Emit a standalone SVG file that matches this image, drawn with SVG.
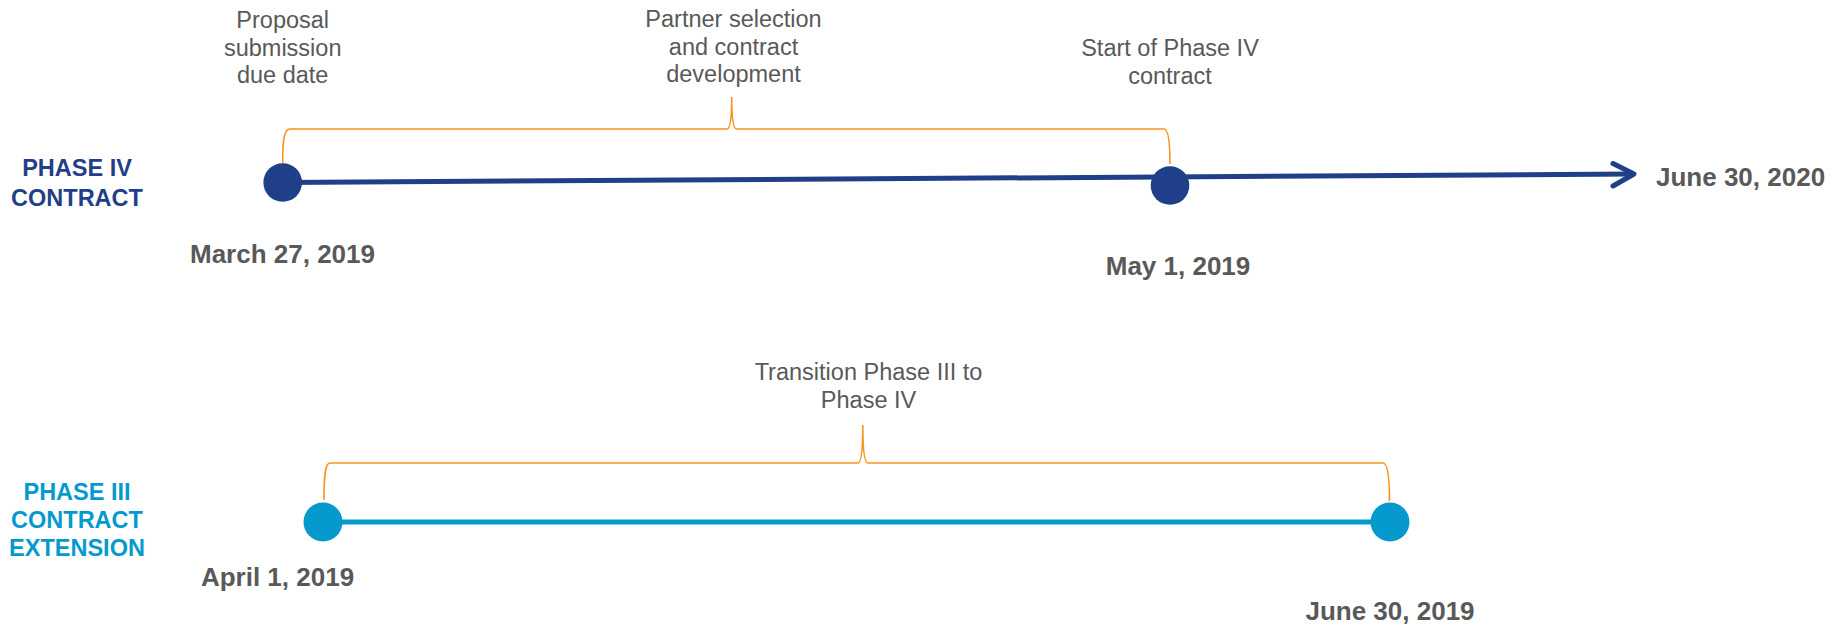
<svg xmlns="http://www.w3.org/2000/svg" width="1839" height="628" viewBox="0 0 1839 628">
<style>
  .note{font-family:"Liberation Sans",Arial,sans-serif;font-size:23.5px;fill:#595959;text-anchor:middle}
  .date{font-family:"Liberation Sans",Arial,sans-serif;font-size:26px;font-weight:bold;fill:#595959;text-anchor:middle}
  .lbl{font-family:"Liberation Sans",Arial,sans-serif;font-size:23.5px;font-weight:bold;text-anchor:middle}
  .dk{fill:#1F3F88}
  .lt{fill:#0599CE}
  .brace{fill:none;stroke:#F7941D;stroke-width:1.6}
</style>
<rect width="1839" height="628" fill="#ffffff"/>
<g id="connectors">
  <path d="M283 182.5 L1633 174" stroke="#1F3F88" stroke-width="5" fill="none"/>
  <path d="M1613 163.5 L1634 174 L1613 186" stroke="#1F3F88" stroke-width="5" fill="none" stroke-linecap="round" stroke-linejoin="round"/>
  <path d="M323 522 L1390 522" stroke="#0599CE" stroke-width="5" fill="none"/>
  <path class="brace" d="M282.7 163 C282.7 140 284 129 290 129 L727 129 C730 129 731.7 120 731.7 97 C731.7 120 733.5 129 736.5 129 L1164 129 C1168 129 1170 140 1170 164"/>
  <path class="brace" d="M324 500 C324 476 325 463 330 463 L858 463 C861 463 862.8 452 862.8 425 C862.8 452 864.8 463 868 463 L1383 463 C1387 463 1389.5 474 1389.5 501"/>
</g>
<g id="label-phase4">
  <text class="lbl dk" x="77" y="176">PHASE IV</text>
  <text class="lbl dk" x="77" y="206">CONTRACT</text>
</g>
<g id="label-phase3">
  <text class="lbl lt" x="77" y="500">PHASE III</text>
  <text class="lbl lt" x="77" y="528">CONTRACT</text>
  <text class="lbl lt" x="77" y="556">EXTENSION</text>
</g>
<g id="node-march27">
  <circle cx="282.7" cy="182.5" r="19.3" fill="#1F3F88"/>
  <text class="date" x="282.5" y="263">March 27, 2019</text>
</g>
<g id="node-may1">
  <circle cx="1170" cy="185.5" r="19.3" fill="#1F3F88"/>
  <text class="date" x="1178" y="275">May 1, 2019</text>
</g>
<g id="node-june2020">
  <text class="date" x="1656" y="186" style="text-anchor:start">June 30, 2020</text>
</g>
<g id="node-april1">
  <circle cx="323" cy="522" r="19.5" fill="#0599CE"/>
  <text class="date" x="277.5" y="586">April 1, 2019</text>
</g>
<g id="node-june2019">
  <circle cx="1390" cy="522" r="19.5" fill="#0599CE"/>
  <text class="date" x="1390" y="620">June 30, 2019</text>
</g>
<g id="note-proposal">
  <text class="note" x="282.7" y="28">Proposal</text>
  <text class="note" x="282.7" y="56">submission</text>
  <text class="note" x="282.7" y="83">due date</text>
</g>
<g id="note-partner">
  <text class="note" x="733.5" y="27">Partner selection</text>
  <text class="note" x="733.5" y="55">and contract</text>
  <text class="note" x="733.5" y="82">development</text>
</g>
<g id="note-start">
  <text class="note" x="1170" y="56">Start of Phase IV</text>
  <text class="note" x="1170" y="84">contract</text>
</g>
<g id="note-transition">
  <text class="note" x="868.5" y="380">Transition Phase III to</text>
  <text class="note" x="868.5" y="408">Phase IV</text>
</g>
</svg>
